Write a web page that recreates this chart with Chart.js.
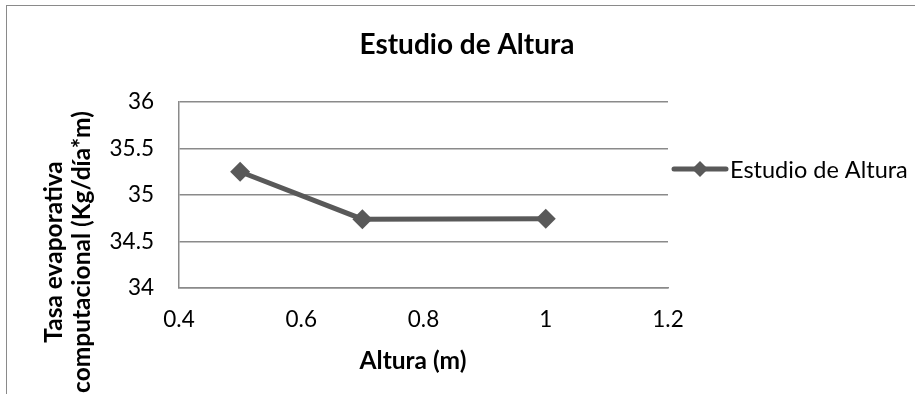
<!DOCTYPE html>
<html><head><meta charset="utf-8">
<script src="https://cdn.jsdelivr.net/npm/chart.js@4/dist/chart.umd.min.js"></script>
<style>
html,body{margin:0;padding:0;background:#fff;overflow:hidden;width:915px;height:394px}
#frame{position:absolute;left:6px;top:5px;width:1000px;height:500px;border:1.5px solid #8a8a8a;box-sizing:border-box}
canvas{position:absolute;left:0;top:0}
</style></head><body>
<div id="frame"></div>
<canvas id="c" width="915" height="394"></canvas>
<script>
const chartTitle = 'Estudio de Altura';
const seriesName = 'Estudio de Altura';
const xTitle = 'Altura (m)';
const yTitleLines = ['Tasa evaporativa', 'computacional (Kg/día*m)'];
const alturas = [0.5, 0.7, 1.0];
const tasas = [35.25, 34.74, 34.745];
const xTicks = [0.4, 0.6, 0.8, 1, 1.2];
const yTicks = [34, 34.5, 35, 35.5, 36];

const FONT = 'Lato, "Open Sans", sans-serif';
const LINE = '#595959';
const GRID = '#8a8a8a';

const decor = {
  id: 'decor',
  afterDraw(chart) {
    const ctx = chart.ctx;
    ctx.save();
    ctx.fillStyle = '#000';
    // chart title
    ctx.font = 'bold 28px ' + FONT;
    ctx.textAlign = 'center';
    ctx.textBaseline = 'alphabetic';
    ctx.fillText(chartTitle, 467, 54);
    // x axis title
    ctx.font = 'bold 24.5px ' + FONT;
    ctx.fillText(xTitle, 413, 369);
    // y axis title
    const ys = [62, 90];
    yTitleLines.forEach((t, i) => {
      ctx.save();
      ctx.translate(ys[i], 252);
      ctx.rotate(-Math.PI / 2);
      ctx.fillText(t, 0, 0);
      ctx.restore();
    });
    // legend
    const ly = 169, lx0 = 672, lx1 = 728;
    ctx.strokeStyle = LINE;
    ctx.lineWidth = 5;
    ctx.lineCap = 'round';
    ctx.beginPath(); ctx.moveTo(lx0 + 2, ly); ctx.lineTo(lx1 - 2, ly); ctx.stroke();
    const cx = (lx0 + lx1) / 2, r = 8;
    ctx.fillStyle = LINE;
    ctx.beginPath();
    ctx.moveTo(cx, ly - r); ctx.lineTo(cx + r, ly); ctx.lineTo(cx, ly + r); ctx.lineTo(cx - r, ly); ctx.closePath();
    ctx.fill();
    ctx.fillStyle = '#000';
    ctx.font = '23.5px ' + FONT;
    ctx.textAlign = 'left';
    ctx.textBaseline = 'middle';
    ctx.fillText(chart.data.datasets[0].label, 730, ly + 1);
    ctx.restore();
  }
};

new Chart(document.getElementById('c'), {
  type: 'line',
  data: {
    datasets: [{
      label: seriesName,
      data: alturas.map((x, i) => ({ x: x, y: tasas[i] })),
      borderColor: LINE,
      backgroundColor: LINE,
      borderWidth: 5,
      pointStyle: 'rectRot',
      pointRadius: 10,
      pointHoverRadius: 10,
      pointBorderWidth: 0,
      pointBackgroundColor: LINE,
      tension: 0,
      fill: false
    }]
  },
  options: {
    responsive: false,
    animation: false,
    devicePixelRatio: 1,
    layout: { padding: { top: 102, right: 247, bottom: 0, left: 0 } },
    plugins: { legend: { display: false }, title: { display: false }, tooltip: { enabled: false } },
    scales: {
      x: {
        type: 'linear',
        min: xTicks[0], max: xTicks[xTicks.length - 1],
        afterBuildTicks: s => { s.ticks = xTicks.map(v => ({ value: v })); },
        afterFit: s => { s.height = 106; },
        grid: { display: false, drawTicks: false },
        border: { display: true, color: GRID, width: 1.5 },
        ticks: { color: '#000', font: { family: FONT, size: 22.5 }, padding: 18, maxRotation: 0,
          callback: v => String(v) }
      },
      y: {
        min: yTicks[0], max: yTicks[yTicks.length - 1],
        afterBuildTicks: s => { s.ticks = yTicks.map(v => ({ value: v })); },
        afterFit: s => { s.width = 179; },
        grid: { display: true, color: GRID, lineWidth: 1.5, drawTicks: false },
        border: { display: true, color: GRID, width: 1.5 },
        ticks: { color: '#000', font: { family: FONT, size: 22.5 }, padding: 25,
          callback: v => String(v) }
      }
    }
  },
  plugins: [decor]
});
</script>
</body></html>
